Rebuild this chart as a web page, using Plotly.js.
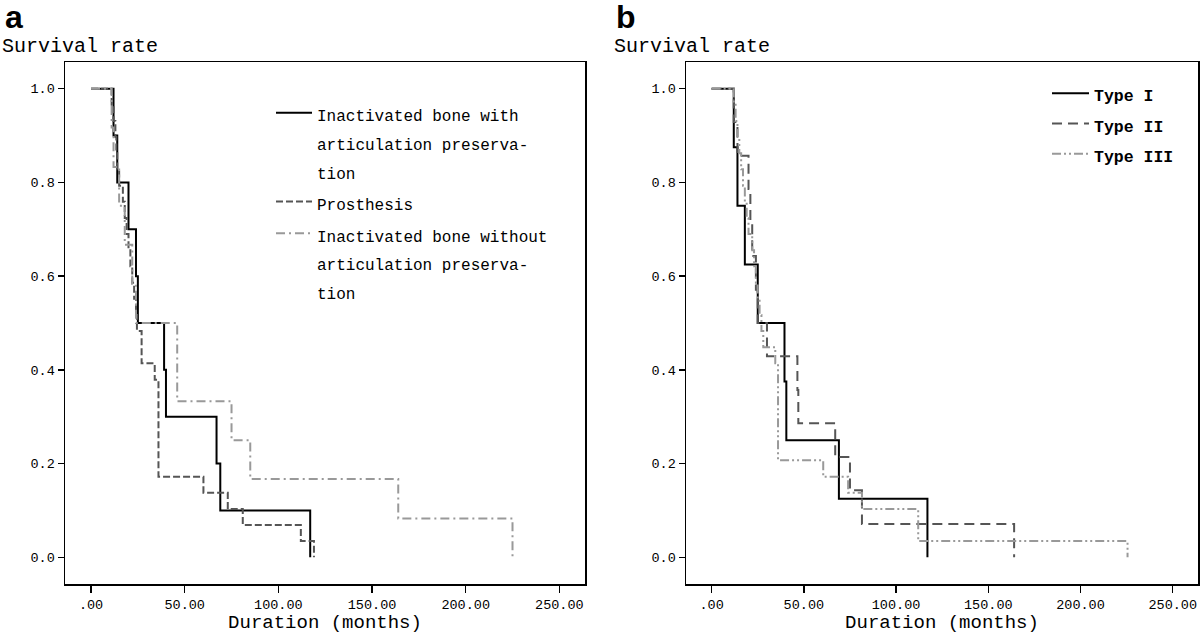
<!DOCTYPE html>
<html>
<head>
<meta charset="utf-8">
<script src="https://cdn.plot.ly/plotly-3.0.1.min.js"></script>
<style>html,body{margin:0;padding:0;background:#fff;}#chart{width:1200px;height:634px;}</style>
</head>
<body>
<div id="chart"></div>
<script>
// ---- Data ----
// Panel a
const aWithT = [0, 12, 14, 20, 24, 25, 39, 40, 67, 69, 117];
const aWithS = [1, 0.9, 0.8, 0.7, 0.6, 0.5, 0.4, 0.3, 0.2, 0.1, 0];
const aProsT = [0, 11, 12, 13, 13.5, 14, 15, 17, 18, 19, 20, 21, 22, 23, 24, 24.5, 27, 34, 36, 60, 73, 81, 112, 119];
const aProsS = [1, 0.966, 0.931, 0.897, 0.862, 0.828, 0.793, 0.759, 0.724, 0.690, 0.655, 0.621, 0.586, 0.552, 0.517, 0.483, 0.414, 0.379, 0.172, 0.138, 0.103, 0.069, 0.0345, 0];
const aWithoutT = [0, 11, 12, 15, 18, 22, 24, 46, 75, 85, 164, 225];
const aWithoutS = [1, 0.917, 0.833, 0.75, 0.667, 0.583, 0.5, 0.333, 0.25, 0.167, 0.083, 0];
// Panel b
const bType1T = [0, 12, 14, 18, 25, 39.5, 40.5, 69, 117];
const bType1S = [1, 0.875, 0.75, 0.625, 0.5, 0.375, 0.25, 0.125, 0];
const bType2T = [0, 12, 14, 20, 21, 22, 24, 25, 30, 46.5, 47, 67, 75, 81.5, 164];
const bType2S = [1, 0.929, 0.857, 0.786, 0.714, 0.643, 0.571, 0.5, 0.429, 0.357, 0.286, 0.214, 0.143, 0.071, 0];
const bType3T = [0, 12, 13, 14, 15, 16, 17, 18, 19, 20, 22, 23, 24, 25, 26, 27, 28, 34.5, 36, 60.5, 74, 81.5, 112, 225.5];
const bType3S = [1, 0.966, 0.931, 0.897, 0.862, 0.828, 0.793, 0.759, 0.724, 0.690, 0.655, 0.621, 0.586, 0.552, 0.517, 0.483, 0.448, 0.414, 0.207, 0.172, 0.138, 0.103, 0.0345, 0];

const xTickVals = [0, 50, 100, 150, 200, 250];
const xTickText = ['.00', '50.00', '100.00', '150.00', '200.00', '250.00'];
const yTickVals = [0, 0.2, 0.4, 0.6, 0.8, 1.0];
const yTickText = ['0.0', '0.2', '0.4', '0.6', '0.8', '1.0'];

const namesA = [
  ['Inactivated bone with', 'articulation preserva-', 'tion'],
  ['Prosthesis'],
  ['Inactivated bone without', 'articulation preserva-', 'tion']
];
const namesB = ['Type I', 'Type II', 'Type III'];

// ---- Rendering ----
const MONO = '"Liberation Mono", "Courier New", monospace';
const W = 1200, H = 634;
function lbl(lines, size, bold) {
  return lines.map(l => '<span style="font-size:' + size + 'px">' + (bold ? '<b>' + l + '</b>' : l) + '</span>').join('<br>');
}
function step(x, y, name, color, dash, xa, ya, leg) {
  return {x: x, y: y, type: 'scatter', mode: 'lines', name: name, xaxis: xa, yaxis: ya, legend: leg,
    line: {shape: 'hv', color: color, width: 2, dash: dash}, hoverinfo: 'skip'};
}
const traces = [
  step(aWithT, aWithS, lbl(namesA[0], 16), '#000000', 'solid', 'x', 'y', 'legend'),
  step(aProsT, aProsS, lbl(namesA[1], 16), '#555555', '7px,3px', 'x', 'y', 'legend'),
  step(aWithoutT, aWithoutS, lbl(namesA[2], 16), '#999999', '9px,4px,2px,4px', 'x', 'y', 'legend'),
  step(bType1T, bType1S, lbl([namesB[0]], 16.5, true), '#000000', 'solid', 'x2', 'y2', 'legend2'),
  step(bType2T, bType2S, lbl([namesB[1]], 16.5, true), '#555555', '10px,6px', 'x2', 'y2', 'legend2'),
  step(bType3T, bType3S, lbl([namesB[2]], 16.5, true), '#999999', '9px,3px,2px,3px,2px,3px', 'x2', 'y2', 'legend2')
];

function xax(domain, anchor) {
  return {domain: domain, anchor: anchor, range: [-13.9, 263.7], tickvals: xTickVals, ticktext: xTickText,
    ticks: 'outside', ticklen: 7, tickwidth: 1.5, tickcolor: '#000', showline: true, mirror: true,
    linecolor: '#000', linewidth: 1.5, showgrid: false, zeroline: false,
    tickfont: {family: MONO, size: 13.5, color: '#000'},
    title: {text: 'Duration (months)', font: {family: MONO, size: 19, color: '#000'}, standoff: 3}};
}
function yax(anchor) {
  return {domain: [50 / H, 572 / H], anchor: anchor, range: [-0.057, 1.057], tickvals: yTickVals, ticktext: yTickText,
    ticks: 'outside', ticklen: 6, tickwidth: 1.5, tickcolor: '#000', showline: true, mirror: true,
    linecolor: '#000', linewidth: 1.5, showgrid: false, zeroline: false,
    tickfont: {family: MONO, size: 13.5, color: '#000'}};
}
const layout = {
  width: W, height: H, margin: {l: 0, r: 0, t: 0, b: 0},
  paper_bgcolor: '#fff', plot_bgcolor: '#fff', showlegend: true,
  xaxis: xax([65 / W, 585 / W], 'y'),
  yaxis: yax('x'),
  xaxis2: xax([686 / W, 1198 / W], 'y2'),
  yaxis2: yax('x2'),
  legend: {x: 271 / W, y: 1 - 92 / H, xanchor: 'left', yanchor: 'top', bgcolor: 'rgba(0,0,0,0)',
    font: {family: MONO, size: 22, color: '#000'}, valign: 'top', itemwidth: 36, tracegroupgap: 0},
  legend2: {x: 1047 / W, y: 1 - 73 / H, xanchor: 'left', yanchor: 'top', bgcolor: 'rgba(0,0,0,0)',
    font: {family: MONO, size: 21, color: '#000'}, valign: 'top', itemwidth: 37, tracegroupgap: 0},
  annotations: [
    {text: '<b>a</b>', xref: 'paper', yref: 'paper', x: 3 / W, y: 1 + 3 / H, xanchor: 'left', yanchor: 'top', showarrow: false,
      font: {family: 'Liberation Sans, Arial, sans-serif', size: 32, color: '#000'}},
    {text: '<b>b</b>', xref: 'paper', yref: 'paper', x: 614 / W, y: 1 + 3 / H, xanchor: 'left', yanchor: 'top', showarrow: false,
      font: {family: 'Liberation Sans, Arial, sans-serif', size: 32, color: '#000'}},
    {text: 'Survival rate', xref: 'paper', yref: 'paper', x: 0, y: 1 - 47 / H, xanchor: 'left', yanchor: 'middle', showarrow: false,
      font: {family: MONO, size: 20, color: '#000'}},
    {text: 'Survival rate', xref: 'paper', yref: 'paper', x: 612 / W, y: 1 - 47 / H, xanchor: 'left', yanchor: 'middle', showarrow: false,
      font: {family: MONO, size: 20, color: '#000'}}
  ]
};
Plotly.newPlot('chart', traces, layout, {displayModeBar: false, staticPlot: true});
</script>
</body>
</html>
